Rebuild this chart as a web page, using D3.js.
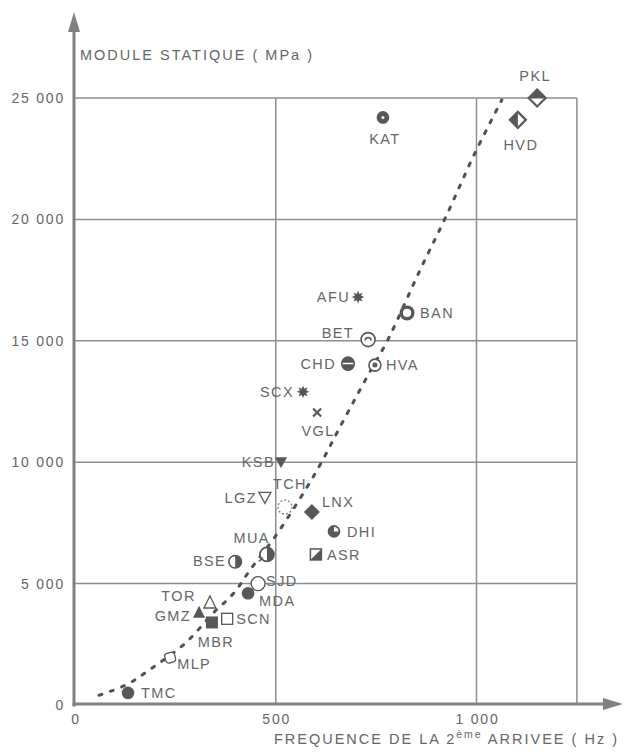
<!DOCTYPE html>
<html>
<head>
<meta charset="utf-8">
<script src="https://cdn.jsdelivr.net/npm/d3@7"></script>
<style>
  html, body { margin: 0; padding: 0; background: #fff; }
  svg { display: block; }
  text { font-family: "Liberation Sans", Arial, Helvetica, sans-serif; fill: #666666; }
</style>
</head>
<body>
<svg id="chart" width="626" height="756"></svg>
<script>
// ---------------- DATA ----------------
const siteNames = ["PKL","HVD","KAT","AFU","BAN","BET","CHD","HVA","SCX","VGL","KSB","LGZ","TCH","LNX","DHI","ASR","MUA","BSE","SJD","MDA","TOR","GMZ","MBR","SCN","MLP","TMC"];
const frequencyHz = [1151,1103,767,705,827,730,680,747,568,603,513,473,523,590,645,600,478,399,456,431,336,309,341,379,237,132];
const staticModulusMPa = [25000,24100,24200,16800,16150,15050,14050,14000,12900,12050,10000,8550,8150,7950,7150,6200,6200,5900,5000,4600,4200,3800,3400,3550,1950,500];
const markerKind = ["diamondTop","diamondLeft","circleDot","star","ring","circleArc","circleBottom","circleCenter","star","cross","triDownFilled","triDownOpen","circleDashed","diamondFilled","circleQuarter","squareDiag","circleWedge","circleRight","circleOpen","circleFilled","triUpOpen","triUpFilled","squareFilled","squareOpen","squareRound","circleFilled"];
// Trend curve
const trendFreq = [60,130,190,275,345,395,436,496,555,610,660,727,780,859,922,996,1063];
const trendModulus = [400,850,1500,2550,3800,4600,5560,6880,8360,9880,11450,13500,15070,17900,20050,22730,24920];
const xTicks = [0,500,1000];
const yTicks = [0,5000,10000,15000,20000,25000];
const xGrid = [500,1000,1250];
const yGrid = [5000,10000,15000,20000,25000];
const yTitle = "MODULE STATIQUE ( MPa )";

// ---------------- LAYOUT / STYLE ----------------
const svg = d3.select("#chart");
const x = d3.scaleLinear().domain([0, 1000]).range([75, 476.5]);
const y = d3.scaleLinear().domain([0, 25000]).range([705, 98]);
const fmt = d3.formatLocale({decimal: ",", thousands: " ", grouping: [3], currency: ["", ""]}).format(",d");
const dark = "#585858";
const gridCol = "#8e8e8e";
const axisCol = "#808080";

// gridlines
svg.append("g").selectAll("line").data(yGrid).join("line")
  .attr("x1", x(0)).attr("x2", x(1250))
  .attr("y1", d => y(d)).attr("y2", d => y(d))
  .attr("stroke", gridCol).attr("stroke-width", 1.5);
svg.append("g").selectAll("line").data(xGrid).join("line")
  .attr("x1", d => x(d)).attr("x2", d => x(d))
  .attr("y1", y(0)).attr("y2", y(25000))
  .attr("stroke", gridCol).attr("stroke-width", 1.5);

// axes with arrows
const ax = svg.append("g");
ax.append("line").attr("x1", x(0) - 1).attr("x2", x(0) - 1).attr("y1", y(0) + 1.5).attr("y2", 28)
  .attr("stroke", axisCol).attr("stroke-width", 3);
ax.append("path").attr("d", `M${x(0)-1},12 L${x(0)-7},32 L${x(0)+5},32 Z`).attr("fill", axisCol);
ax.append("line").attr("x1", x(0) - 2.5).attr("x2", 606).attr("y1", y(0) - 1).attr("y2", y(0) - 1)
  .attr("stroke", axisCol).attr("stroke-width", 3);
ax.append("path").attr("d", `M623,${y(0)-1} L603,${y(0)-7} L603,${y(0)+5} Z`).attr("fill", axisCol);

// tick labels
svg.append("g").selectAll("text").data(yTicks).join("text")
  .attr("x", 65).attr("y", d => y(d)).attr("dy", "0.35em")
  .attr("text-anchor", "end").attr("font-size", 14).style("letter-spacing", "1.8px")
  .text(d => fmt(d));
svg.append("g").selectAll("text").data(xTicks).join("text")
  .attr("x", d => x(d) + 1).attr("y", 719).attr("dy", "0.35em")
  .attr("text-anchor", "middle").attr("font-size", 14).style("letter-spacing", "1.8px")
  .text(d => fmt(d));

// axis titles
svg.append("text").attr("x", 80).attr("y", 55).attr("dy", "0.35em")
  .attr("font-size", 14.5).style("letter-spacing", "2px").text(yTitle);
const xt = svg.append("text").attr("x", 619).attr("y", 744)
  .attr("text-anchor", "end").attr("font-size", 14.5).style("letter-spacing", "2px");
xt.append("tspan").text("FREQUENCE  DE  LA  2");
xt.append("tspan").attr("dy", -6).attr("font-size", 10.5).text("ème");
xt.append("tspan").attr("dy", 6).text("  ARRIVEE ( Hz )");

// trend curve (dotted)
const trend = trendFreq.map((f, i) => [f, trendModulus[i]]);
svg.append("path")
  .attr("d", d3.line().x(d => x(d[0])).y(d => y(d[1])).curve(d3.curveCatmullRom)(trend))
  .attr("fill", "none").attr("stroke", "#505050").attr("stroke-width", 3)
  .attr("stroke-linecap", "round").attr("stroke-dasharray", "3 9");

// markers
function drawMarker(g, kind) {
  const sw = 1.6;
  const star = (r1, r2, n) => {
    const pts = [];
    for (let i = 0; i < 2 * n; i++) {
      const a = Math.PI * i / n - Math.PI / 2;
      const r = i % 2 ? r2 : r1;
      pts.push([r * Math.cos(a), r * Math.sin(a)]);
    }
    return "M" + pts.join("L") + "Z";
  };
  switch (kind) {
    case "diamondTop":
      g.append("path").attr("d", "M0,-8.5 L8.5,0 L-8.5,0 Z").attr("fill", dark);
      g.append("path").attr("d", "M0,-8.5 L8.5,0 L0,8.5 L-8.5,0 Z").attr("fill", "none").attr("stroke", dark).attr("stroke-width", 2.2);
      break;
    case "diamondLeft":
      g.append("path").attr("d", "M0,-8 L0,8 L-8,0 Z").attr("fill", dark);
      g.append("path").attr("d", "M0,-8 L8,0 L0,8 L-8,0 Z").attr("fill", "none").attr("stroke", dark).attr("stroke-width", 2.2);
      break;
    case "diamondFilled":
      g.append("path").attr("d", "M0,-8 L8,0 L0,8 L-8,0 Z").attr("fill", dark);
      break;
    case "circleDot":
      g.append("circle").attr("r", 6.3).attr("fill", dark);
      g.append("circle").attr("r", 1.5).attr("fill", "#fff");
      break;
    case "star":
      g.append("path").attr("d", star(6.3, 3.4, 8)).attr("fill", dark);
      break;
    case "ring":
      g.append("circle").attr("r", 5.8).attr("fill", "#fff").attr("stroke", dark).attr("stroke-width", 3.4);
      break;
    case "circleArc":
      g.append("circle").attr("r", 7).attr("fill", "#fff").attr("stroke", dark).attr("stroke-width", sw);
      g.append("path").attr("d", "M-3,1 A3,3 0 0 1 3,1").attr("fill", "none").attr("stroke", dark).attr("stroke-width", 1.6);
      break;
    case "circleBottom":
      g.append("path").attr("d", "M-6.3,0.5 A6.3,6.3 0 0 0 6.3,0.5 Z").attr("fill", dark);
      g.append("path").attr("d", "M-6.3,-1.2 A6.3,6.3 0 0 1 6.3,-1.2 Z").attr("fill", dark);
      g.append("circle").attr("r", 6.3).attr("fill", "none").attr("stroke", dark).attr("stroke-width", sw);
      break;
    case "circleCenter":
      g.append("circle").attr("r", 6).attr("fill", "#fff").attr("stroke", dark).attr("stroke-width", sw);
      g.append("circle").attr("r", 2.5).attr("fill", dark);
      break;
    case "cross":
      g.append("path").attr("d", "M-4,-4 L4,4 M-4,4 L4,-4").attr("stroke", dark).attr("stroke-width", 2.2);
      break;
    case "triDownFilled":
      g.append("path").attr("d", "M-6,-5 L6,-5 L0,6 Z").attr("fill", dark);
      break;
    case "triDownOpen":
      g.append("path").attr("d", "M-6,-5 L6,-5 L0,6 Z").attr("fill", "#fff").attr("stroke", dark).attr("stroke-width", 1.3);
      break;
    case "triUpFilled":
      g.append("path").attr("d", "M-6,5 L6,5 L0,-7 Z").attr("fill", dark);
      break;
    case "triUpOpen":
      g.append("path").attr("d", "M-6,5 L6,5 L0,-7 Z").attr("fill", "#fff").attr("stroke", dark).attr("stroke-width", 1.3);
      break;
    case "circleDashed":
      g.append("circle").attr("r", 7).attr("fill", "#fff").attr("stroke", "#8a8a8a").attr("stroke-width", 1.5).attr("stroke-dasharray", "2 2");
      break;
    case "circleQuarter":
      g.append("circle").attr("r", 6.3).attr("fill", dark);
      g.append("path").attr("d", "M0,0 L0,-4.5 A4.5,4.5 0 0 1 4.5,0 Z").attr("fill", "#fff");
      break;
    case "squareDiag":
      g.append("rect").attr("x", -5.5).attr("y", -5.5).attr("width", 11).attr("height", 11).attr("fill", "#fff").attr("stroke", dark).attr("stroke-width", 1.5);
      g.append("path").attr("d", "M-5.5,5.5 L5.5,-5.5 L5.5,5.5 Z").attr("fill", dark);
      break;
    case "circleWedge":
      g.append("circle").attr("r", 7).attr("fill", "#fff").attr("stroke", dark).attr("stroke-width", 1.8);
      g.append("path").attr("d", "M0,-7 A7,7 0 0 1 0,7 L0,0 Z").attr("fill", dark);
      g.append("path").attr("d", "M-4,3 L-8,7").attr("stroke", dark).attr("stroke-width", 1.5);
      break;
    case "circleRight":
      g.append("circle").attr("r", 6.3).attr("fill", "#fff").attr("stroke", dark).attr("stroke-width", sw);
      g.append("path").attr("d", "M0,-6.3 A6.3,6.3 0 0 1 0,6.3 Z").attr("fill", dark);
      break;
    case "circleOpen":
      g.append("circle").attr("r", 7).attr("fill", "#fff").attr("stroke", dark).attr("stroke-width", 1.4);
      break;
    case "circleFilled":
      g.append("circle").attr("r", 6.3).attr("fill", dark);
      break;
    case "squareFilled":
      g.append("rect").attr("x", -6).attr("y", -6).attr("width", 12).attr("height", 12).attr("fill", dark);
      break;
    case "squareOpen":
      g.append("rect").attr("x", -5.5).attr("y", -5.5).attr("width", 11).attr("height", 11).attr("fill", "#fff").attr("stroke", dark).attr("stroke-width", 1.3);
      break;
    case "squareRound":
      g.append("rect").attr("x", -5).attr("y", -5).attr("width", 10).attr("height", 10).attr("rx", 3)
        .attr("transform", "rotate(-15)").attr("fill", "#fff").attr("stroke", dark).attr("stroke-width", 1.3);
      break;
  }
}

// label placement (style): [dx, dy, anchor]
const labelOffset = {
  PKL: [-2, -22, "middle"], HVD: [3, 25, "middle"], KAT: [2, 21, "middle"],
  AFU: [-8, 0, "end"], BAN: [13, 0, "start"], BET: [-14, -7, "end"],
  CHD: [-12, 0, "end"], HVA: [11, 0, "start"], SCX: [-9, 0, "end"],
  VGL: [1, 18, "middle"], KSB: [-6, 0, "end"], LGZ: [-8, 0, "end"],
  TCH: [5, -23, "middle"], LNX: [10, -10, "start"], DHI: [13, 0, "start"],
  ASR: [11, 0, "start"], MUA: [3, -17, "end"], BSE: [-9, -1, "end"],
  SJD: [8, -3, "start"], MDA: [11, 7, "start"], TOR: [-14, -7, "end"],
  GMZ: [-8, 3, "end"], MBR: [4, 19, "middle"], SCN: [9, 0, "start"],
  MLP: [7, 6, "start"], TMC: [13, 0, "start"]
};

const pts = siteNames.map((n, i) => ({name: n, f: frequencyHz[i], m: staticModulusMPa[i], kind: markerKind[i]}));
const pg = svg.append("g").selectAll("g").data(pts).join("g")
  .attr("transform", d => `translate(${x(d.f)},${y(d.m)})`);
pg.each(function(d) { drawMarker(d3.select(this), d.kind); });
pg.append("text")
  .attr("x", d => labelOffset[d.name][0])
  .attr("y", d => labelOffset[d.name][1])
  .attr("dy", "0.36em")
  .attr("text-anchor", d => labelOffset[d.name][2])
  .attr("font-size", 14.5).style("letter-spacing", "1.4px")
  .text(d => d.name);
</script>
</body>
</html>
